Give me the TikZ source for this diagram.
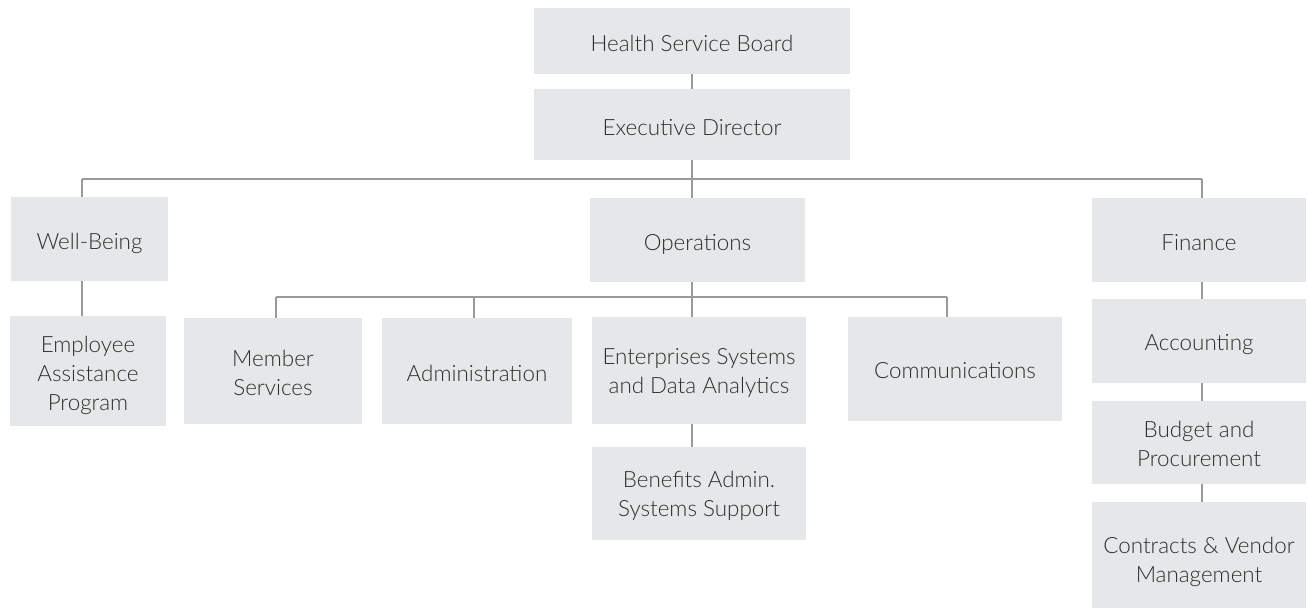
\documentclass[tikz,border=0pt]{standalone}
\usepackage{fontspec}
\setmainfont{Lato}[UprightFont={* Light}]
\definecolor{boxfill}{HTML}{E6E7E8}
\definecolor{linegray}{HTML}{9A9A9A}
\definecolor{txt}{HTML}{2E2E2E}
\newcommand{\toplift}[1]{\rule{0pt}{#1pt}}
\newcommand{\botdrop}{\rule[-6pt]{0pt}{6pt}}
\begin{document}
\begin{tikzpicture}[x=1pt,y=-1pt,
  orgbox/.style={fill=boxfill,draw=none,inner sep=0pt,align=center,text=txt,
    font=\fontsize{22.4}{29}\selectfont},
  conn/.style={draw=linegray,line width=1.8pt}]
\useasboundingbox (0,0) rectangle (1308,615);
\fill[white] (0,0) rectangle (1308,615);
% nodes
\node[orgbox,minimum width=316pt,minimum height=66pt] (hsb) at (692,41) {\toplift{28}Health Service Board\botdrop};
\node[orgbox,minimum width=316pt,minimum height=71pt] (ed) at (692,124.5) {\toplift{28}Executive Director\botdrop};
\node[orgbox,minimum width=157pt,minimum height=84pt] (wb) at (89.5,239) {\toplift{26}Well-Being\botdrop};
\node[orgbox,minimum width=215pt,minimum height=84pt] (ops) at (697.5,240) {\toplift{26}Operations\botdrop};
\node[orgbox,minimum width=214pt,minimum height=84pt] (fin) at (1199,240) {\toplift{26}Finance\botdrop};
\node[orgbox,minimum width=156pt,minimum height=110pt] (eap) at (88,371) {\toplift{26}Employee\\Assistance\\Program\botdrop};
\node[orgbox,minimum width=178pt,minimum height=106pt] (ms) at (273,371) {\toplift{26}Member\\Services\botdrop};
\node[orgbox,minimum width=190pt,minimum height=106pt] (adm) at (477,371) {\toplift{26}Administration\botdrop};
\node[orgbox,minimum width=214pt,minimum height=107pt] (esd) at (699,370.5) {\toplift{22}Enterprises Systems\\and Data Analytics\botdrop};
\node[orgbox,minimum width=214pt,minimum height=104pt] (com) at (955,369) {\toplift{24}Communications\botdrop};
\node[orgbox,minimum width=214pt,minimum height=93pt] (ben) at (699,493.5) {\toplift{22}Benefits Admin.\\Systems Support\botdrop};
\node[orgbox,minimum width=214pt,minimum height=84pt] (acc) at (1199,341) {\toplift{24}Accounting\botdrop};
\node[orgbox,minimum width=214pt,minimum height=83pt] (bud) at (1199,442.5) {\toplift{25}Budget and\\Procurement\botdrop};
\node[orgbox,minimum width=214pt,minimum height=106pt] (con) at (1199,555) {\toplift{31}Contracts \& Vendor\\Management\botdrop};
% junctions
\coordinate (j1) at (692,179);
\coordinate (j1l) at (82,179);
\coordinate (j1r) at (1202,179);
\coordinate (j2) at (692,297);
\coordinate (j2l) at (276,297);
\coordinate (j2m) at (474,297);
\coordinate (j2r) at (947,297);
% connectors
\draw[conn] (hsb.south) -- (ed.north);
\draw[conn] (ed.south) -- (j1);
\draw[conn] (j1l) -- (j1r);
\draw[conn] (j1) -- (j1 |- ops.north);
\draw[conn] (j1l) -- (j1l |- wb.north);
\draw[conn] (j1r) -- (j1r |- fin.north);
\draw[conn] (j1l |- wb.south) -- (j1l |- eap.north);
\draw[conn] (j2 |- ops.south) -- (j2);
\draw[conn] (j2l) -- (j2r);
\draw[conn] (j2l) -- (j2l |- ms.north);
\draw[conn] (j2m) -- (j2m |- adm.north);
\draw[conn] (j2) -- (j2 |- esd.north);
\draw[conn] (j2r) -- (j2r |- com.north);
\draw[conn] (j2 |- esd.south) -- (j2 |- ben.north);
\draw[conn] (j1r |- fin.south) -- (j1r |- acc.north);
\draw[conn] (j1r |- acc.south) -- (j1r |- bud.north);
\draw[conn] (j1r |- bud.south) -- (j1r |- con.north);
\end{tikzpicture}
\end{document}
